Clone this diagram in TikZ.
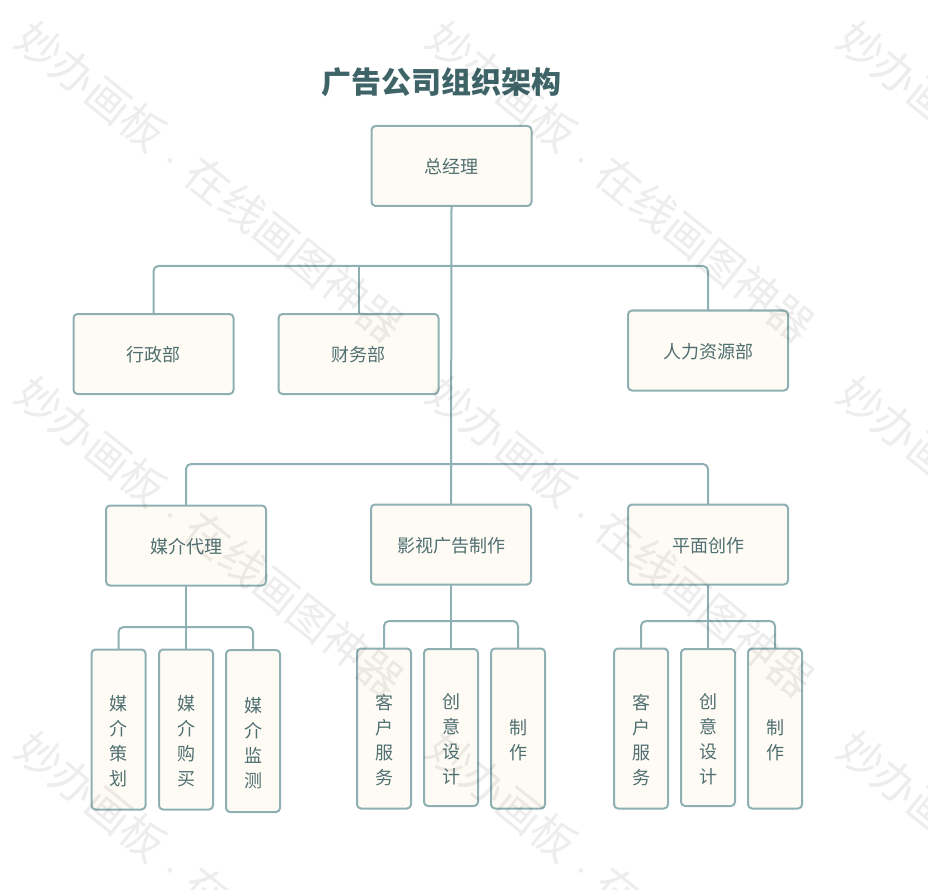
\documentclass[tikz,border=0pt]{standalone}
\usepackage{fontspec}
\setmainfont{Noto Sans CJK SC}
\definecolor{boxline}{HTML}{8FB0B3}
\definecolor{boxfill}{HTML}{FEFBF5}
\definecolor{boxtext}{HTML}{4F6F70}
\definecolor{titletext}{HTML}{3E6468}
\newcommand{\wmtext}{妙办画板\makebox[40pt][c]{\fontsize{22}{22}\selectfont ·}在线画图神器}
\newcommand{\topgap}{\rule{0pt}{14pt}}
\tikzset{
  link/.style={draw=boxline,line width=2pt,rounded corners=5pt},
  basebox/.style={draw=boxline,fill=boxfill,line width=2pt,rounded corners=4pt,text=boxtext,
    inner sep=0pt,outer sep=0pt,font=\fontsize{18}{25}\selectfont},
  bigbox/.style={basebox,minimum width=160pt,minimum height=80pt,text height=17pt},
  leafbox/.style={basebox,minimum width=54pt,align=center},
  wmark/.style={text=black,text opacity=0.07,rotate=-38.8,inner sep=0pt,font=\fontsize{44}{44}\selectfont}
}
\begin{document}
\begin{tikzpicture}[x=1pt,y=-1pt]
\useasboundingbox (0,0) rectangle (928,890);
\node[text=titletext,font=\fontsize{30}{30}\selectfont\bfseries] (title) at (441,82) {广告公司组织架构};
\node[bigbox] (zjl) at (451.5,166) {总经理};
\node[bigbox] (xz) at (153.5,354) {行政部};
\node[bigbox] (cw) at (358.5,354) {财务部};
\node[bigbox] (rl) at (708,350.5) {人力资源部};
\node[bigbox] (mj) at (186,545.5) {媒介代理};
\node[bigbox] (ys) at (451,544.5) {影视广告制作};
\node[bigbox] (pm) at (708,544.5) {平面创作};
\node[leafbox,minimum height=160pt] (mjch) at (118.5,729.5) {\topgap\\媒\\介\\策\\划};
\node[leafbox,minimum height=160pt] (mjgm) at (186,729.5) {\topgap\\媒\\介\\购\\买};
\node[leafbox,minimum height=162pt] (mjjc) at (253,731) {\topgap\\媒\\介\\监\\测};
\node[leafbox,minimum height=160pt] (yskh) at (384,728.5) {\topgap\\客\\户\\服\\务};
\node[leafbox,minimum height=157pt] (yscy) at (451,727.5) {\topgap\\创\\意\\设\\计};
\node[leafbox,minimum height=160pt] (yszz) at (518,728.5) {\topgap\\制\\作};
\node[leafbox,minimum height=160pt] (pmkh) at (641,728.5) {\topgap\\客\\户\\服\\务};
\node[leafbox,minimum height=157pt] (pmcy) at (708,727.5) {\topgap\\创\\意\\设\\计};
\node[leafbox,minimum height=160pt] (pmzz) at (775,728.5) {\topgap\\制\\作};
\coordinate (busa) at (451,266);
\coordinate (busb) at (451,464);
\coordinate (busc) at (186,627);
\coordinate (busd) at (451,621);
\coordinate (buse) at (708,621);
\draw[link] (zjl.south) -- (ys.north);
\draw[link] (xz.north) |- (busa) -| (rl.north);
\draw[link] (cw.north) -- (cw.north |- busa);
\draw[link] (mj.north) |- (busb) -| (pm.north);
\draw[link] (mj.south) -- (mjgm.north);
\draw[link] (mjch.north) |- (busc) -| (mjjc.north);
\draw[link] (ys.south) -- (yscy.north);
\draw[link] (yskh.north) |- (busd) -| (yszz.north);
\draw[link] (pm.south) -- (pmcy.north);
\draw[link] (pmkh.north) |- (buse) -| (pmzz.north);
\node[wmark] (wma) at (210,181.5) {\wmtext};
\node[wmark] (wmb) at (621,181.5) {\wmtext};
\node[wmark] (wmc) at (1032,181.5) {\wmtext};
\node[wmark] (wmd) at (210,536.5) {\wmtext};
\node[wmark] (wme) at (621,536.5) {\wmtext};
\node[wmark] (wmf) at (1032,536.5) {\wmtext};
\node[wmark] (wmg) at (210,891.5) {\wmtext};
\node[wmark] (wmh) at (621,891.5) {\wmtext};
\node[wmark] (wmi) at (1032,891.5) {\wmtext};
\end{tikzpicture}
\end{document}
